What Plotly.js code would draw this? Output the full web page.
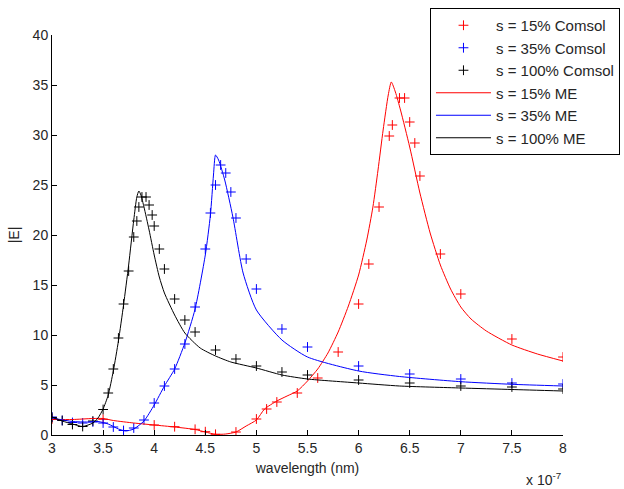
<!DOCTYPE html>
<html>
<head>
<meta charset="utf-8">
<script src="https://cdn.plot.ly/plotly-3.0.1.min.js"></script>
<style>html,body{margin:0;padding:0;background:#fff;}#chart{width:624px;height:489px;}</style>
</head>
<body>
<div id="chart"></div>
<script>
// wavelength in units of 1e-7 m
var redComsolX = [3.0, 3.5, 4.0, 4.2, 4.4, 4.5, 4.6, 4.8, 5.0, 5.1, 5.2, 5.4, 5.6, 5.8, 6.0, 6.1, 6.2, 6.3, 6.33, 6.4, 6.45, 6.5, 6.55, 6.6, 6.8, 7.0, 7.5, 8.0];
var redComsolY = [1.6, 1.57, 1.0, 0.83, 0.57, 0.33, 0.07, 0.3, 1.6, 2.6, 3.3, 4.2, 5.7, 8.3, 13.1, 17.1, 22.8, 29.9, 31.0, 33.7, 33.7, 31.3, 29.2, 25.9, 18.1, 14.1, 9.6, 7.8];

var blueComsolX = [3.0, 3.1, 3.2, 3.3, 3.4, 3.5, 3.6, 3.7, 3.8, 3.9, 4.0, 4.1, 4.2, 4.3, 4.4, 4.5, 4.55, 4.6, 4.65, 4.7, 4.75, 4.8, 4.9, 5.0, 5.25, 5.5, 6.0, 6.5, 7.0, 7.5, 8.0];
var blueComsolY = [1.8, 1.45, 1.25, 1.2, 1.3, 1.2, 0.8, 0.45, 0.7, 1.5, 3.2, 4.9, 6.6, 9.1, 12.8, 18.6, 22.2, 25.0, 27.0, 26.2, 24.3, 21.7, 17.6, 14.6, 10.6, 8.8, 6.9, 6.1, 5.6, 5.2, 5.1];

var blackComsolX = [3.0, 3.1, 3.2, 3.3, 3.4, 3.5, 3.55, 3.6, 3.65, 3.7, 3.75, 3.8, 3.83, 3.85, 3.88, 3.92, 3.95, 3.98, 4.0, 4.05, 4.1, 4.2, 4.3, 4.4, 4.6, 4.8, 5.0, 5.25, 5.5, 6.0, 6.5, 7.0, 7.5, 8.0];
var blackComsolY = [1.75, 1.45, 1.05, 0.85, 1.4, 2.55, 4.2, 6.6, 9.7, 13.1, 16.4, 19.8, 21.4, 22.8, 23.8, 23.8, 23.0, 22.0, 20.9, 18.6, 16.6, 13.6, 11.5, 10.3, 8.5, 7.6, 6.9, 6.3, 6.0, 5.5, 5.2, 4.9, 4.8, 4.6];

var redMEX = [3.0, 3.2, 3.4, 3.5, 3.6, 3.8, 4.0, 4.2, 4.4, 4.5, 4.6, 4.7, 4.8, 4.9, 5.0, 5.08, 5.2, 5.3, 5.4, 5.5, 5.6, 5.7, 5.8, 5.9, 6.0, 6.08, 6.14, 6.19, 6.24, 6.29, 6.32, 6.36, 6.41, 6.5, 6.6, 6.7, 6.8, 6.9, 7.0, 7.1, 7.25, 7.5, 7.75, 8.0];
var redMEY = [1.55, 1.55, 1.65, 1.65, 1.45, 1.2, 1.0, 0.8, 0.55, 0.3, 0.07, 0.1, 0.3, 0.9, 1.5, 2.6, 3.4, 3.9, 4.4, 5.4, 6.6, 8.2, 10.3, 12.9, 16.0, 19.5, 22.8, 26.5, 30.5, 34.0, 35.3, 34.3, 32.5, 28.8, 24.2, 20.2, 17.0, 14.6, 12.8, 11.6, 10.4, 9.0, 8.1, 7.4];

var blueMEX = [3.0, 3.2, 3.35, 3.45, 3.55, 3.65, 3.72, 3.8, 3.9, 4.0, 4.1, 4.2, 4.3, 4.4, 4.5, 4.55, 4.58, 4.6, 4.63, 4.69, 4.77, 4.87, 5.0, 5.25, 5.5, 6.0, 6.4, 7.0, 7.5, 8.0];
var blueMEY = [1.7, 1.35, 1.3, 1.35, 1.1, 0.6, 0.4, 0.6, 1.4, 3.0, 4.9, 6.6, 9.2, 12.6, 18.0, 22.0, 26.0, 28.0, 27.5, 25.5, 21.8, 16.2, 12.5, 9.5, 7.8, 6.4, 5.85, 5.33, 5.07, 4.9];

var blackMEX = [3.0, 3.1, 3.2, 3.3, 3.4, 3.45, 3.5, 3.55, 3.6, 3.65, 3.7, 3.75, 3.8, 3.83, 3.85, 3.87, 3.9, 3.95, 4.0, 4.05, 4.1, 4.2, 4.3, 4.45, 4.6, 4.75, 5.0, 5.25, 5.5, 6.0, 6.4, 7.0, 7.5, 8.0];
var blackMEY = [1.8, 1.4, 1.1, 0.85, 1.2, 1.7, 2.6, 4.0, 6.4, 9.4, 13.0, 17.0, 21.5, 23.8, 24.4, 24.0, 22.8, 20.5, 18.0, 15.8, 14.2, 12.0, 10.2, 8.7, 7.9, 7.3, 6.7, 6.0, 5.6, 5.2, 4.9, 4.7, 4.55, 4.4];

var xTicks = [3, 3.5, 4, 4.5, 5, 5.5, 6, 6.5, 7, 7.5, 8];
var xTickText = ['3', '3.5', '4', '4.5', '5', '5.5', '6', '6.5', '7', '7.5', '8'];
var yTicks = [0, 5, 10, 15, 20, 25, 30, 35, 40];

var RED = '#ff0000', BLUE = '#0000ff', BLACK = '#000000';

function markers(x, y, c, name) {
  return {x: x, y: y, type: 'scatter', mode: 'markers', name: name,
    marker: {symbol: 'cross-thin', size: 7, color: c, line: {width: 1, color: c}}};
}
function lines(x, y, c, name) {
  return {x: x, y: y, type: 'scatter', mode: 'lines', name: name,
    line: {color: c, width: 1, shape: 'spline', smoothing: 0.6}};
}

var data = [
  markers(redComsolX, redComsolY, RED, 's = 15% Comsol'),
  markers(blueComsolX, blueComsolY, BLUE, 's = 35% Comsol'),
  markers(blackComsolX, blackComsolY, BLACK, 's = 100% Comsol'),
  lines(redMEX, redMEY, RED, 's = 15% ME'),
  lines(blueMEX, blueMEY, BLUE, 's = 35% ME'),
  lines(blackMEX, blackMEY, BLACK, 's = 100% ME')
];

var FONT = 'Arial, "Liberation Sans", sans-serif';
var layout = {
  width: 624, height: 489,
  margin: {l: 52, r: 61, t: 35, b: 54, pad: 0, autoexpand: false},
  paper_bgcolor: '#fff', plot_bgcolor: '#fff',
  font: {family: FONT, size: 14, color: '#262626'},
  showlegend: true,
  xaxis: {
    range: [3, 8], tickvals: xTicks, ticktext: xTickText,
    ticks: 'inside', ticklen: 5, tickcolor: '#000', tickwidth: 1,
    showline: true, linecolor: '#000', linewidth: 1, mirror: false,
    showgrid: false, zeroline: false, automargin: false,
    tickfont: {family: FONT, size: 14, color: '#262626'},
    title: {text: 'wavelength (nm)', font: {family: FONT, size: 14, color: '#262626'}, standoff: 8}
  },
  yaxis: {
    range: [0, 40], tickvals: yTicks,
    ticks: 'inside', ticklen: 5, tickcolor: '#000', tickwidth: 1,
    showline: true, linecolor: '#000', linewidth: 1, mirror: false,
    showgrid: false, zeroline: false, automargin: false,
    tickfont: {family: FONT, size: 14, color: '#262626'},
    title: {text: '|E|', font: {family: FONT, size: 14, color: '#262626'}, standoff: 9}
  },
  legend: {
    x: 1.1115, y: 1.0675, xanchor: 'right', yanchor: 'top',
    bgcolor: '#fff', bordercolor: '#000', borderwidth: 1,
    font: {family: FONT, size: 15, color: '#262626'},
    traceorder: 'normal', tracegroupgap: 0, itemwidth: 55
  },
  annotations: [{
    xref: 'paper', yref: 'paper', x: 1.0, y: -0.083, xanchor: 'right', yanchor: 'top',
    text: 'x 10<sup>-7</sup>', showarrow: false,
    font: {family: FONT, size: 14, color: '#262626'}
  }]
};

Plotly.newPlot('chart', data, layout, {displayModeBar: false, staticPlot: true});
</script>
</body>
</html>
